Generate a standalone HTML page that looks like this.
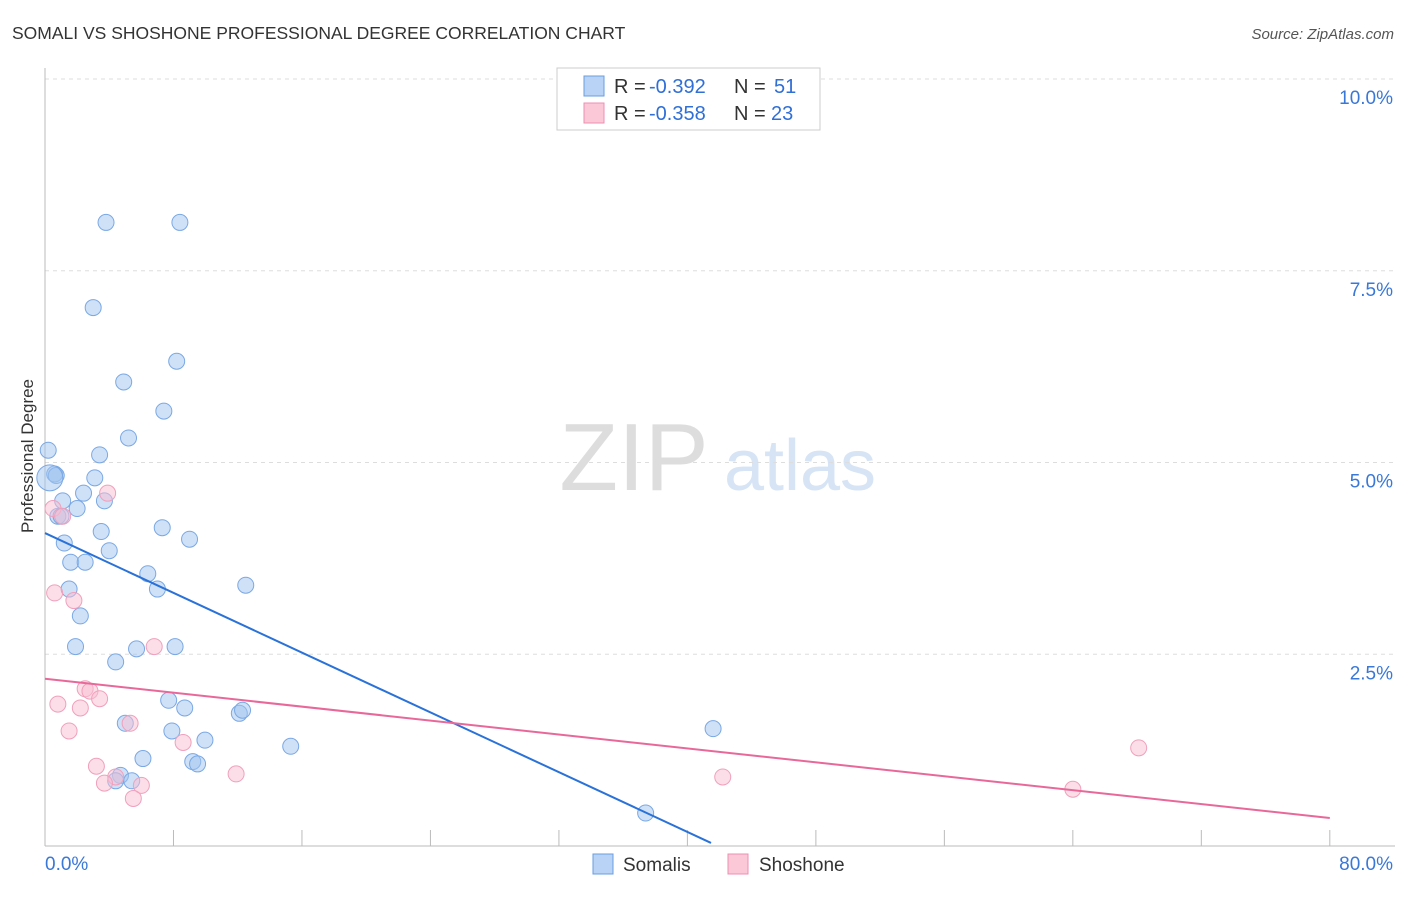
<!DOCTYPE html>
<html><head><meta charset="utf-8"><style>
body{margin:0;background:#fff;font-family:"Liberation Sans",sans-serif;}
svg text{font-family:"Liberation Sans",sans-serif;}
</style></head><body>
<svg id="chart" width="1406" height="892">
<text x="12" y="39" font-size="17.5" fill="#333">SOMALI VS SHOSHONE PROFESSIONAL DEGREE CORRELATION CHART</text>
<text x="1394" y="39" font-size="15" fill="#555" font-style="italic" text-anchor="end">Source: ZipAtlas.com</text>
<text transform="translate(33,456) rotate(-90)" font-size="17" fill="#333" text-anchor="middle">Professional Degree</text>
<g>
<text x="634" y="490" font-size="96" fill="#ddd" font-family="Liberation Serif" text-anchor="middle">ZIP</text>
<text x="800" y="490" font-size="72" fill="#d6e4f5" text-anchor="middle">atlas</text>
</g>
<g id="grid"></g><g id="axes"></g><g id="pts"></g><g id="lines"></g>
<g>
<rect x="557" y="68" width="263" height="62" fill="#fff" stroke="#ccc"/>
<rect x="584" y="76" width="20" height="20" fill="#b8d3f5" stroke="#6a9de0"/>
<rect x="584" y="103" width="20" height="20" fill="#fbc8d8" stroke="#ee8fb0"/>
<text y="93" font-size="20" fill="#333"><tspan x="614">R =</tspan><tspan x="649" fill="#2f6fd6">-0.392</tspan><tspan x="734">N =</tspan><tspan x="774" fill="#2f6fd6">51</tspan></text>
<text y="120" font-size="20" fill="#333"><tspan x="614">R =</tspan><tspan x="649" fill="#2f6fd6">-0.358</tspan><tspan x="734">N =</tspan><tspan x="771" fill="#2f6fd6">23</tspan></text>
</g>
<g>
<rect x="593" y="854" width="20" height="20" fill="#b8d3f5" stroke="#6a9de0"/>
<text x="623" y="871" font-size="19" fill="#333">Somalis</text>
<rect x="728" y="854" width="20" height="20" fill="#fbc8d8" stroke="#ee8fb0"/>
<text x="759" y="871" font-size="19" fill="#333">Shoshone</text>
</g>
</svg>
<script>
const somaliX=[3.8,8.4,3.0,8.2,4.9,7.4,5.2,0.2,3.4,0.6,0.7,3.1,2.4,1.1,3.7,2.0,0.8,1.0,7.3,3.5,9.0,1.2,4.0,1.6,2.5,6.4,1.5,7.0,12.5,2.2,1.9,5.7,8.1,4.4,7.7,8.7,12.1,12.3,5.0,7.9,9.96,15.3,41.6,9.2,9.5,6.1,4.7,4.4,5.4,37.4,0.3];
const somaliY=[8.13,8.13,7.02,6.32,6.05,5.67,5.32,5.16,5.1,4.85,4.83,4.8,4.6,4.5,4.5,4.4,4.3,4.3,4.15,4.1,4.0,3.95,3.85,3.7,3.7,3.55,3.35,3.35,3.4,3.0,2.6,2.57,2.6,2.4,1.9,1.8,1.73,1.77,1.6,1.5,1.38,1.3,1.53,1.1,1.07,1.14,0.92,0.85,0.85,0.43,4.8];
const shoshoneX=[0.5,1.1,3.9,0.6,1.8,0.8,2.5,2.8,3.4,2.2,1.5,5.3,6.8,8.6,3.2,11.9,4.4,3.7,6.0,5.5,42.2,68.1,64.0];
const shoshoneY=[4.4,4.3,4.6,3.3,3.2,1.85,2.05,2.02,1.92,1.8,1.5,1.6,2.6,1.35,1.04,0.94,0.9,0.82,0.79,0.62,0.9,1.28,0.74];
const somaliLine=[4.08,0.04];const shoshoneLine=[2.18,0.365];
const yTicks=[2.5,5,7.5,10];const xTickLabels=["0.0%","80.0%"];
const X=v=>45+v*16.06, Y=v=>846-v*76.7;
const NS="http://www.w3.org/2000/svg";
function mk(p,t,a){const e=document.createElementNS(NS,t);for(const k in a)e.setAttribute(k,a[k]);p.appendChild(e);return e;}
const grid=document.getElementById('grid'),axes=document.getElementById('axes'),pts=document.getElementById('pts'),lines=document.getElementById('lines');
yTicks.forEach(t=>{
 const l=mk(grid,'line',{x1:45,x2:1395,y1:Y(t),y2:Y(t),stroke:'#ddd','stroke-dasharray':'4,4'});
 
 
 const tx=mk(axes,'text',{x:1393,y:Y(t)+25,'font-size':19,fill:'#3a78d8','text-anchor':'end'});tx.textContent=t.toFixed(1)+'%';
 
 
});
const ya=mk(axes,'line',{x1:45,x2:45,y1:68,y2:846,stroke:'#bbb'});


const xa=mk(axes,'line',{x1:45,x2:1395,y1:846,y2:846,stroke:'#bbb'});


for(let i=0;i<=10;i++){const t=mk(axes,'line',{x1:X(i*8),x2:X(i*8),y1:830,y2:846,stroke:'#bbb'});
 
 }
[[0,'start',45],[80,'end',1393]].forEach((d,i)=>{const t=mk(axes,'text',{x:d[2],y:870,'font-size':19,fill:'#3a78d8','text-anchor':d[1]});t.textContent=xTickLabels[i];
 
 });
somaliX.forEach((x,i)=>{const c=mk(pts,'circle',{cx:X(x),cy:Y(somaliY[i]),r:i==50?13:8,fill:'rgba(160,195,240,0.5)',stroke:'#7aa8e4','stroke-width':1});
 
 });
shoshoneX.forEach((x,i)=>{const c=mk(pts,'circle',{cx:X(x),cy:Y(shoshoneY[i]),r:8,fill:'rgba(250,190,210,0.5)',stroke:'#f0a0bc','stroke-width':1});
 
 });
const bl=mk(lines,'line',{x1:X(0),y1:Y(somaliLine[0]),x2:X(41.47),y2:Y(somaliLine[1]),stroke:'#2a72d8','stroke-width':2});


const pl=mk(lines,'line',{x1:X(0),y1:Y(shoshoneLine[0]),x2:X(80),y2:Y(shoshoneLine[1]),stroke:'#e8689a','stroke-width':2});


</script>
</body></html>
